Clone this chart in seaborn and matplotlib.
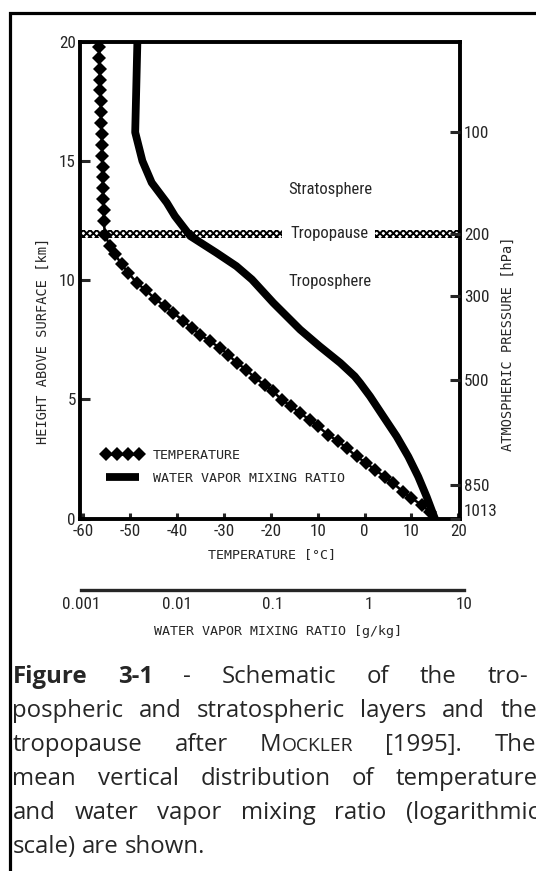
import matplotlib
matplotlib.use("Agg")
import matplotlib.pyplot as plt
import matplotlib.font_manager as fm
import seaborn as sns
import pandas as pd
from matplotlib.lines import Line2D
from matplotlib.patches import Rectangle
from matplotlib.ticker import FixedLocator, NullFormatter, LogLocator

# ---------------- data ----------------
temp_height_km = [19.78, 19.32, 18.87, 18.41, 17.96, 17.50, 17.04, 16.59, 16.13, 15.68,
                  15.22, 14.76, 14.31, 13.85, 13.40, 12.94, 12.48,
                  11.91, 11.43, 11.08, 10.66, 10.31, 9.89, 9.57, 9.22, 8.91, 8.63, 8.31,
                  8.00, 7.72, 7.44, 7.16, 6.88, 6.54, 6.25, 5.90, 5.62, 5.34, 4.99, 4.71,
                  4.43, 4.15, 3.87, 3.52, 3.24, 2.96, 2.61, 2.33, 2.05, 1.76, 1.49, 1.13,
                  0.86, 0.58, 0.29]
temp_c = [-56.6, -56.55, -56.5, -56.45, -56.4, -56.3, -56.25, -56.2, -56.1, -56.0,
          -55.95, -55.9, -55.85, -55.8, -55.7, -55.65, -55.6,
          -55.4, -54.3, -53.2, -51.8, -50.4, -48.6, -46.6, -44.7, -42.6, -40.8, -38.7,
          -36.9, -35.1, -33.0, -30.8, -29.1, -27.3, -25.2, -23.4, -21.3, -19.5, -17.7,
          -15.6, -13.8, -11.7, -9.9, -7.8, -5.6, -3.8, -1.7, 0.4, 2.2, 4.3, 6.1, 8.2,
          10.0, 12.2, 13.9]

wv_height_km = [20.0, 16.2, 15.0, 14.09, 13.25, 12.69, 11.85, 11.15, 10.59, 10.03, 9.05,
                7.93, 7.23, 6.53, 5.97, 5.69, 5.13, 4.29, 3.45, 2.60, 1.76, 0.92, 0.29, 0.0]
wv_g_per_kg = [0.0039, 0.0037, 0.0044, 0.0055, 0.0079, 0.0096, 0.0139, 0.026, 0.042,
               0.061, 0.102, 0.194, 0.31, 0.51, 0.72, 0.82, 1.04, 1.43, 1.97, 2.61,
               3.31, 4.05, 4.64, 4.94]

height_ticks = [0, 5, 10, 15, 20]
temp_ticks = [-60, -50, -40, -30, -20, -10, 0, 10, 20]
temp_tick_labels = ["-60", "-50", "-40", "-30", "-20", "10", "0", "10", "20"]
pressure_labels = ["100", "200", "300", "500", "850", "1013"]
pressure_height_km = [16.2, 11.95, 9.35, 5.8, 1.4, 0.0]
mixing_ticks = [0.001, 0.01, 0.1, 1, 10]
mixing_tick_labels = ["0.001", "0.01", "0.1", "1", "10"]
tropopause_km = [11.78, 12.12]
layer_names = ["Stratosphere", "Tropopause", "Troposphere"]
layer_height_km = [13.8, 11.95, 9.95]

# ---------------- style ----------------
sns.set_style("white")
plt.rcParams["font.family"] = ["DejaVu Sans"]
plt.rcParams["hatch.linewidth"] = 1.4

_names = {f.name for f in fm.fontManager.ttflist}
_narrow = None
for cand in ["Liberation Sans Narrow", "Roboto Condensed", "DejaVu Sans Condensed",
             "Open Sans Condensed", "Noto Sans Condensed", "Arial Narrow"]:
    if cand in _names:
        _narrow = cand
        break
if _narrow is None:
    for n in sorted(_names):
        if "Condensed" in n or "Narrow" in n:
            _narrow = n
            break
if _narrow is None:
    NARROW = ["DejaVu Sans"]
    NSIZE = 10
else:
    NARROW = [_narrow, "DejaVu Sans"]
    NSIZE = 12.3
MONO = ["DejaVu Sans Mono"]
CAP = ["Open Sans", "DejaVu Sans"]

W, H = 536, 871
fig = plt.figure(figsize=(W / 100, H / 100), dpi=100)
fig.patch.set_facecolor("white")

def fx(px):
    return px / W

def fy(py):
    return 1 - py / H

# outer frame
fig.add_artist(Rectangle((fx(9.5), -0.1), 1.2, fy(13.5) + 0.1, transform=fig.transFigure,
                         fill=False, lw=2.3, edgecolor="black"))

# ---------------- main axes ----------------
ax = fig.add_axes([fx(80), fy(518.7), 380 / W, 477 / H])
ax.set_facecolor("none")
ax.set_xlim(-60.7, 20.36)
ax.set_ylim(0, 20)

df_t = pd.DataFrame({"temp": temp_c, "height": temp_height_km})
sns.lineplot(data=df_t, x="temp", y="height", sort=False, estimator=None, ax=ax,
             color="black", lw=1.8, marker="D", markersize=6.8, markeredgewidth=0,
             zorder=4)

# tropopause band (broken around its label)
for x0, x1 in [(-60.7, -17.7), (2.2, 20.36)]:
    ax.fill_between([x0, x1], tropopause_km[0], tropopause_km[1], facecolor="white",
                    edgecolor="black", hatch="xxxxx", linewidth=0, zorder=2)

for name, hk in zip(layer_names, layer_height_km):
    ax.text(-7.4, hk, name, ha="center", va="center", family=NARROW, fontsize=12)

ax.set_xticks(temp_ticks)
ax.set_xticklabels(temp_tick_labels, family=NARROW, fontsize=NSIZE)
ax.set_yticks(height_ticks)
ax.set_yticklabels([str(v) for v in height_ticks], family=NARROW, fontsize=NSIZE)
ax.tick_params(axis="x", direction="in", length=4, width=2.2, pad=3.5, bottom=True, top=False)
ax.tick_params(axis="y", direction="in", length=7, width=2.2, pad=3, left=True, right=False)
ax.set_xlabel("")
ax.set_ylabel("")
for s in ax.spines.values():
    s.set_linewidth(2.8)
    s.set_color("black")

# water vapour on log twin axis
ax2 = ax.twiny()
ax2.set_xscale("log")
ax2.set_xlim(10 ** -3.0073, 10 ** 0.9552)
df_w = pd.DataFrame({"w": wv_g_per_kg, "height": wv_height_km})
sns.lineplot(data=df_w, x="w", y="height", sort=False, estimator=None, ax=ax2,
             color="black", lw=5.6, zorder=3)
ax2.set_ylim(0, 20)
ax2.xaxis.set_major_locator(FixedLocator([]))
ax2.xaxis.set_minor_locator(FixedLocator([]))
ax2.set_xlabel("")
ax2.set_ylabel("")
for s in ax2.spines.values():
    s.set_visible(False)

# pressure axis on right
ax3 = ax.twinx()
ax3.set_ylim(0, 20)
ax3.set_yticks(pressure_height_km)
ax3.set_yticklabels(pressure_labels, family=NARROW, fontsize=NSIZE)
ax3.tick_params(axis="y", direction="in", length=7.5, width=2.2, pad=3, right=True)
for s in ax3.spines.values():
    s.set_visible(False)
ax3.get_yticklabels()[-1].set_va("bottom")

# legend
handles = [Line2D([], [], color="black", marker="D", markersize=7.3, lw=1.8, markeredgewidth=0),
           Line2D([], [], color="black", lw=5.6, solid_capstyle="butt")]
leg = ax2.legend(handles, ["TEMPERATURE", "WATER VAPOR MIXING RATIO"], loc="upper left",
                 bbox_to_anchor=(fx(101.7), fy(449)), bbox_transform=fig.transFigure,
                 frameon=False, numpoints=4, handlelength=3.1, handletextpad=0.75,
                 labelspacing=0.72, borderpad=0, borderaxespad=0,
                 prop={"family": MONO, "size": 9.6})

# axis labels
fig.text(fx(272.5), fy(555), "TEMPERATURE [°C]", ha="center", va="center",
         family=MONO, fontsize=9.6)
fig.text(fx(43), fy(341), "HEIGHT ABOVE SURFACE [km]", ha="center", va="center",
         rotation=90, family=MONO, fontsize=9.8)
fig.text(fx(508), fy(344), "ATMOSPHERIC PRESSURE [hPa]", ha="center", va="center",
         rotation=90, family=MONO, fontsize=9.8)

# ---------------- logarithmic mixing ratio scale ----------------
axl = fig.add_axes([fx(80.7), fy(590), 383.6 / W, 0.0005])
axl.set_xscale("log")
axl.set_xlim(0.001, 10)
axl.set_yticks([])
axl.set_facecolor("none")
for k in ["left", "right", "top"]:
    axl.spines[k].set_visible(False)
axl.spines["bottom"].set_linewidth(2.4)
axl.xaxis.set_major_locator(FixedLocator(mixing_ticks))
axl.set_xticklabels(mixing_tick_labels, family=NARROW, fontsize=NSIZE)
axl.xaxis.set_minor_locator(LogLocator(base=10, subs=[3, 5]))
axl.xaxis.set_minor_formatter(NullFormatter())
axl.tick_params(axis="x", which="major", direction="in", length=12, width=2.2, pad=5)
axl.tick_params(axis="x", which="minor", direction="in", length=6.5, width=2.2)
fig.text(fx(278), fy(631.7), "WATER VAPOR MIXING RATIO [g/kg]", ha="center", va="center",
         family=MONO, fontsize=9.6)

# ---------------- justified caption ----------------
cap_size = 17.3
renderer = fig.canvas.get_renderer()

def piece_width(txt, weight, scale):
    t = fig.text(0, 0, txt, fontsize=cap_size * scale, fontweight=weight, family=CAP)
    w = t.get_window_extent(renderer).width
    t.remove()
    return w

def draw_line(words, baseline_px, justify=True, left=12.5, right=537.0):
    widths = [sum(piece_width(t, wt, sc) for t, wt, sc in word) for word in words]
    if justify and len(words) > 1:
        gap = (right - left - sum(widths)) / (len(words) - 1)
    else:
        gap = piece_width("a b", "normal", 1) - piece_width("ab", "normal", 1)
    x = left
    for word, ww in zip(words, widths):
        xx = x
        for t, wt, sc in word:
            fig.text(fx(xx), fy(baseline_px), t, fontsize=cap_size * sc, fontweight=wt,
                     family=CAP, va="baseline", ha="left")
            xx += piece_width(t, wt, sc)
        x += ww + gap

def plain(s):
    return [[(w, "normal", 1.0)] for w in s.split()]

line1 = [[("Figure", "bold", 1.0)], [("3-1", "bold", 1.0)]] + plain("- Schematic of the tro-")
line2 = plain("pospheric and stratospheric layers and the")
line3 = plain("tropopause after") + [[("M", "normal", 1.0), ("OCKLER", "normal", 0.8)]] + plain("[1995]. The")
line4 = plain("mean vertical distribution of temperature")
line5 = plain("and water vapor mixing ratio (logarithmic")
line6 = plain("scale) are shown.")

for words, base, just, rgt in [(line1, 683, True, 528.0), (line2, 717, True, 537.0),
                               (line3, 751, True, 536.0), (line4, 785, True, 538.0),
                               (line5, 819, True, 539.0), (line6, 853, False, 537.0)]:
    draw_line(words, base, justify=just, right=rgt)

fig.savefig("out.png", dpi=100, facecolor="white")
